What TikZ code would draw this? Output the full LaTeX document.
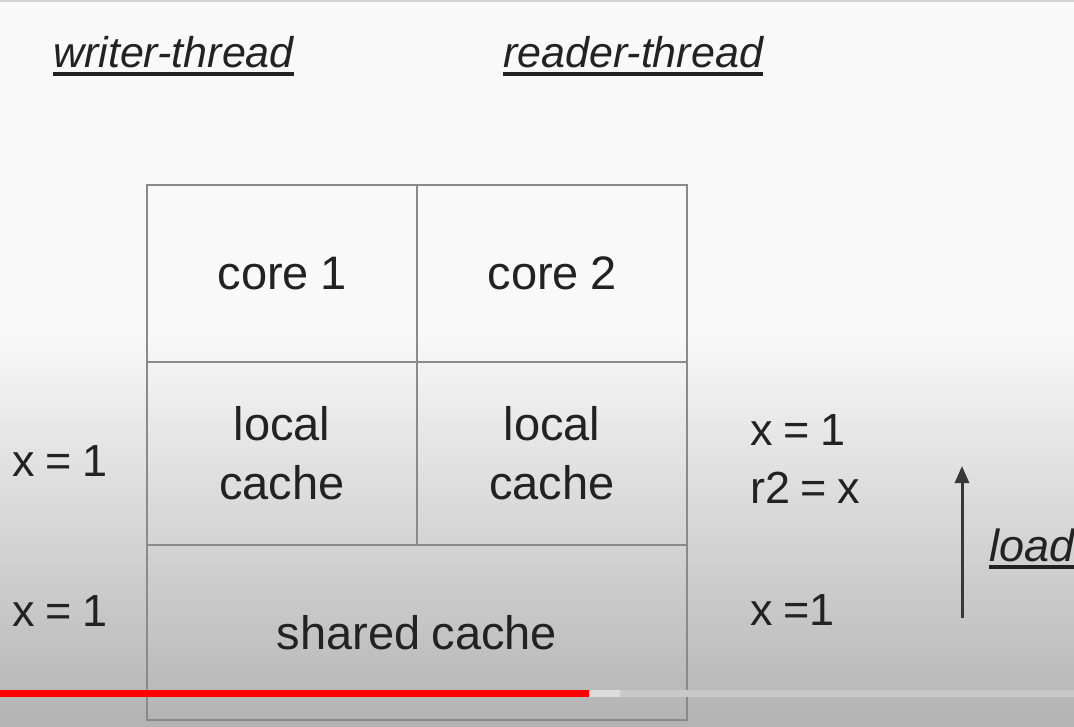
\documentclass[tikz,border=0pt]{standalone}
\usepackage{fontspec}
\setmainfont[WordSpace=0.85]{Liberation Sans}
\usetikzlibrary{arrows.meta}
\definecolor{txt}{HTML}{222222}
\definecolor{frame}{HTML}{8A8A8A}
\definecolor{bgtop}{HTML}{F9F9F9}
\definecolor{bgbot}{HTML}{B3B3B3}
\definecolor{ytred}{HTML}{FF0000}
\definecolor{buffer}{HTML}{DCDCDC}
\definecolor{track}{HTML}{C8C8C8}
\tikzset{
  cell/.style={draw=frame, line width=2pt, minimum width=#1, text=txt, align=center,
    font=\fontsize{47}{61}\selectfont, inner sep=0pt},
  body/.style={text=txt, anchor=base west, inner sep=0pt, font=\fontsize{45}{60}\selectfont},
  title/.style={text=txt, anchor=base west, inner sep=0pt, font=\fontsize{43}{52}\selectfont\itshape},
  uline/.style={txt, line width=4pt},
}
\begin{document}
\begin{tikzpicture}[x=1pt,y=-1pt]
\useasboundingbox (0,0) rectangle (1074,727);
% background (video overlay gradient)
\fill[bgtop] (0,0) rectangle (1074,331);
\shade[top color=bgtop, bottom color=bgbot] (0,330) rectangle (1074,727);
\fill[black!18] (0,0) rectangle (1074,2);
% titles
\node[title] (wt) at (53,68) {writer-thread};
\draw[uline] ([yshift=-6pt]wt.base west) -- ([yshift=-6pt]wt.base east);
\node[title] (rt) at (503,68) {reader-thread};
\draw[uline] ([yshift=-6pt]rt.base west) -- ([yshift=-6pt]rt.base east);
% grid of cells
\node[cell=270pt, minimum height=177pt] (c1) at (282,273.5) {core 1};
\node[cell=270pt, minimum height=177pt] (c2) at (552,273.5) {core 2};
\node[cell=270pt, minimum height=183pt] (l1) at (282,453.5) {local\\[-2pt]cache};
\node[cell=270pt, minimum height=183pt] (l2) at (552,453.5) {local\\[-2pt]cache};
\node[cell=540pt, minimum height=175pt] (sh) at (417,632.5) {shared cache};
% writer side values
\node[body] (w1) at (12,476) {x = 1};
\node[body] (w2) at (12,626) {x = 1};
% reader side values
\node[body] (r1) at (750,445) {x = 1};
\node[body] (r2) at (750,503) {r2 = x};
\node[body] (r3) at (750,625) {x =1};
% load arrow
\coordinate (ab) at (962,618);
\coordinate (at) at (962,466);
\draw[txt!90, line width=3pt, -{Triangle[length=17pt,width=14pt]}] (ab) -- (at);
\node[body, font=\fontsize{45}{54}\selectfont\itshape] (ld) at (989,561) {load};
\draw[uline] ([yshift=-6pt]ld.base west) -- ([yshift=-6pt]ld.base east);
% video progress bar
\coordinate (p0) at (0,690);
\coordinate (p1) at (589,697);
\coordinate (p2) at (620,697);
\coordinate (p3) at (1074,697);
\fill[track] (p0) rectangle (p3);
\fill[buffer] (589,690) rectangle (p2);
\fill[ytred] (p0) rectangle (p1);
\end{tikzpicture}
\end{document}
